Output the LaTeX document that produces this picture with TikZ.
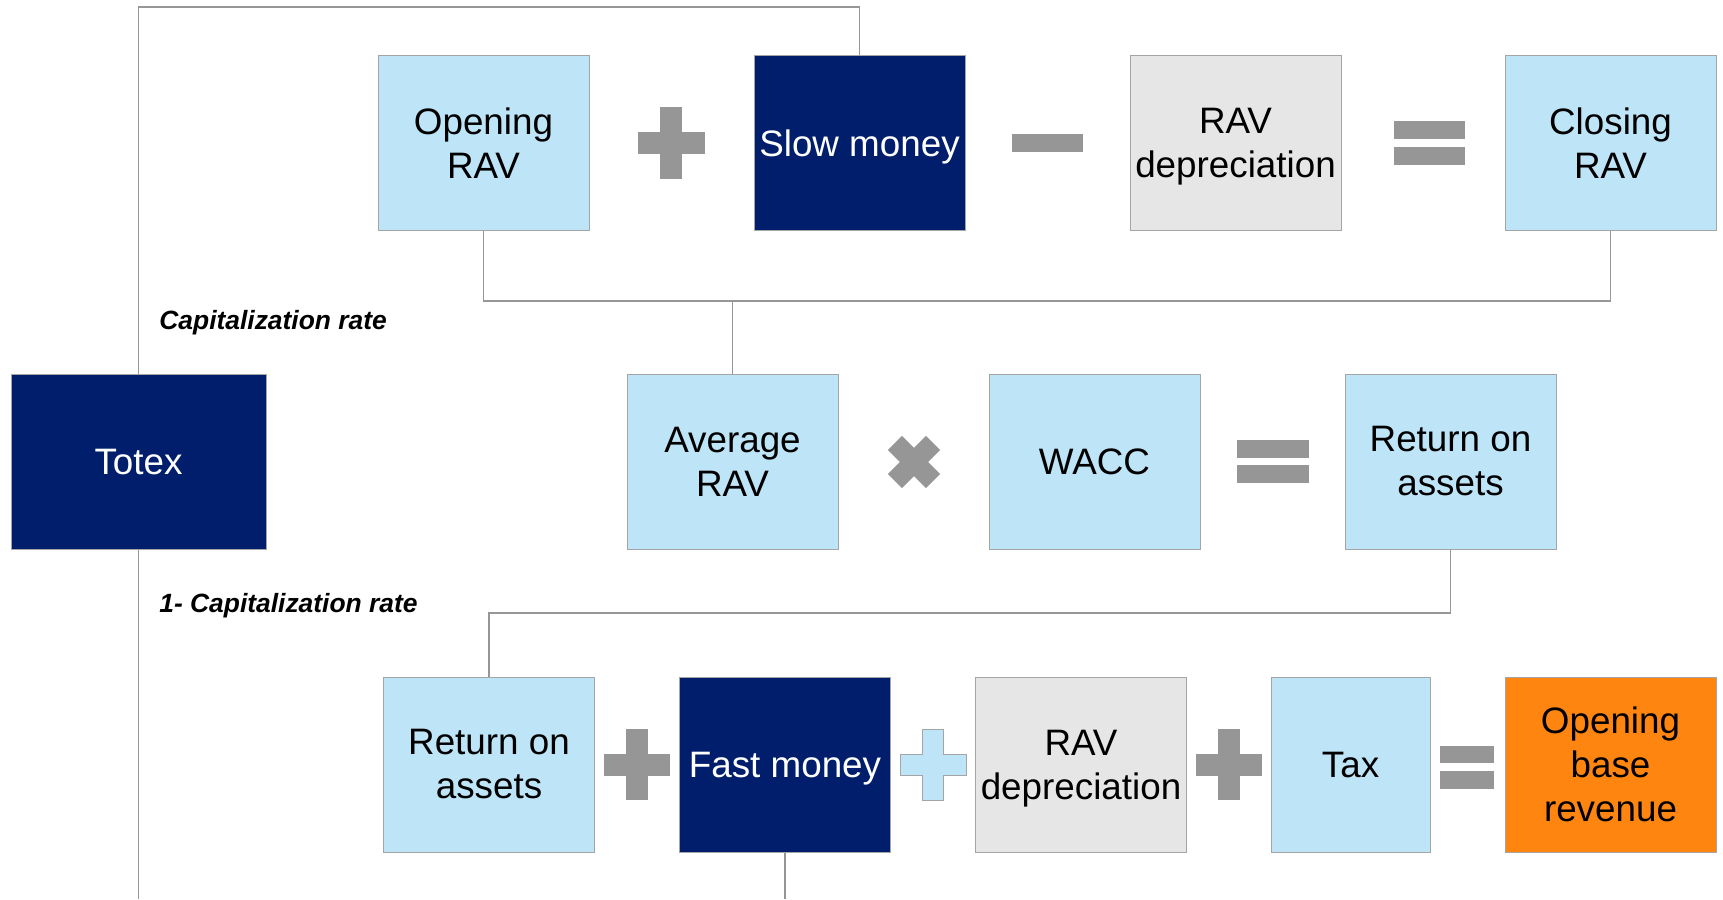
\documentclass[tikz,border=0pt]{standalone}
\usepackage{fontspec}
\setmainfont{Liberation Sans}
\definecolor{boxblue}{RGB}{189,228,247}
\definecolor{boxnavy}{RGB}{0,30,107}
\definecolor{boxgrey}{RGB}{230,230,230}
\definecolor{boxorange}{RGB}{255,133,17}
\definecolor{opgrey}{RGB}{150,150,150}
\definecolor{edgegrey}{RGB}{165,165,165}
\newcommand{\nodepth}[1]{\raisebox{0pt}[\height][0pt]{#1}}
\begin{document}
\begin{tikzpicture}[x=0.5pt,y=-0.5pt,
  block/.style={rectangle, draw=edgegrey, line width=0.5pt, minimum width=105.5pt, minimum height=87.5pt, inner sep=0pt, align=center, font=\fontsize{18.4}{22}\selectfont},
  oneline/.style={execute at begin node={\rule[-3.9pt]{0pt}{20.8pt}}},
  lightbox/.style={block, fill=boxblue},
  darkbox/.style={block, fill=boxnavy, text=white},
  greybox/.style={block, fill=boxgrey},
  resultbox/.style={block, fill=boxorange},
  link/.style={draw=opgrey, line width=0.7pt},
  op/.style={fill=opgrey},
  ratelabel/.style={right, inner sep=0pt, font=\fontsize{13.2}{16}\selectfont\bfseries\itshape}]
\useasboundingbox (0,0) rectangle (1723,899);
% top row
\node [lightbox] (orav) at (483.5,143) {Opening\\RAV};
\node [darkbox, oneline] (slow) at (859.5,143) {Slow money};
\node [greybox] (dep1) at (1235.5,143) {RAV\\\nodepth{depreciation}};
\node [lightbox] (crav) at (1610.5,143) {Closing\\RAV};
% middle row
\node [darkbox, oneline, minimum width=127.5pt] (totex) at (138.5,461.5) {Totex};
\node [lightbox] (avg) at (732.5,461.5) {Average\\RAV};
\node [lightbox, oneline] (wacc) at (1094.5,461.5) {WACC};
\node [lightbox] (roa1) at (1450.5,461.5) {Return on\\assets};
% bottom row
\node [lightbox] (roa2) at (489,764.5) {Return on\\assets};
\node [darkbox, oneline] (fast) at (785,764.5) {Fast money};
\node [greybox] (dep2) at (1081,764.5) {RAV\\\nodepth{depreciation}};
\node [lightbox, oneline, minimum width=79.5pt] (tax) at (1350.5,764.5) {Tax};
\node [resultbox] (obr) at (1610.5,764.5) {Opening\\base\\revenue};
% labels
\node [ratelabel] (cap) at (159,323) {Capitalization rate};
\node [ratelabel] (capm) at (159,606) {1- Capitalization rate};
% connectors
\coordinate (ttop) at (138.5,7);
\coordinate (tbot) at (138.5,899);
\coordinate (fbot) at (785,899);
\coordinate (avgj) at (732.5,301);
\coordinate (roaj) at (489,613);
\draw [link] (totex.north) -- (ttop) -| (slow.north);
\draw [link] (totex.south) -- (tbot);
\draw [link] (fast.south) -- (fbot);
\draw [link] (orav.south) |- (avgj) -| (crav.south);
\draw [link] (avgj) -- (avg.north);
\draw [link] (roa1.south) |- (roaj) -- (roa2.north);
% operators, top row
\fill [op] (637.5,132) rectangle (704.5,154);
\fill [op] (660,107) rectangle (682,179);
\fill [op] (1011.5,134) rectangle (1082.5,152);
\fill [op] (1394,121) rectangle (1465,139);
\fill [op] (1394,147) rectangle (1465,165);
% operators, middle row
\fill [op, rotate around={45:(914,462)}] (887,452) rectangle (941,472);
\fill [op, rotate around={45:(914,462)}] (904,435) rectangle (924,489);
\fill [op] (1237,440) rectangle (1309,458);
\fill [op] (1237,465) rectangle (1309,483);
% operators, bottom row
\fill [op] (604,753.5) rectangle (670,775.5);
\fill [op] (626,729) rectangle (648,800);
\filldraw [fill=boxblue, draw=edgegrey, line width=0.5pt] (922.5,729) -- (943.5,729) -- (943.5,754) -- (966,754) -- (966,775) -- (943.5,775) -- (943.5,800) -- (922.5,800) -- (922.5,775) -- (900,775) -- (900,754) -- (922.5,754) -- cycle;
\fill [op] (1196,753.5) rectangle (1262,775.5);
\fill [op] (1218,729) rectangle (1240,800);
\fill [op] (1440,746) rectangle (1494,763);
\fill [op] (1440,771) rectangle (1494,789);
\end{tikzpicture}
\end{document}
